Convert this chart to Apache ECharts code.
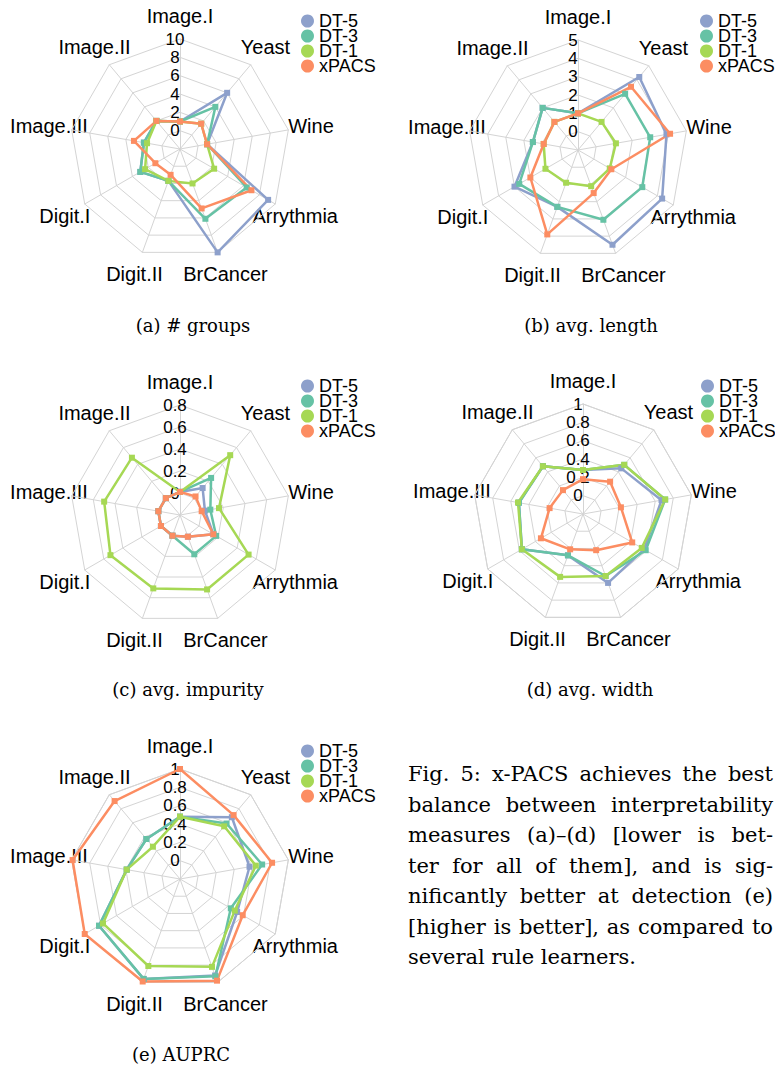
<!DOCTYPE html>
<html>
<head>
<meta charset="utf-8">
<script src="https://cdn.jsdelivr.net/npm/echarts@6/dist/echarts.min.js"></script>
<style>
  html, body { margin: 0; padding: 0; background: #fff; }
  #chart { width: 775px; height: 1074px; }
</style>
</head>
<body>
<div id="chart"></div>
<script>
// Datasets on the radar axes, listed clockwise from the top
const categories = ['Image.I', 'Yeast', 'Wine', 'Arrythmia', 'BrCancer', 'Digit.II', 'Digit.I', 'Image.III', 'Image.II'];
const seriesNames = ['DT-5', 'DT-3', 'DT-1', 'xPACS'];
const seriesColors = ['#8DA0CB', '#66C2A5', '#A6D854', '#FC8D62'];

// (a) # groups
const groupsTicks = [0, 2, 4, 6, 8, 10];
const groupsDT5   = [1, 6, 1, 9.1, 10, 1.7, 3, 2, 2];
const groupsDT3   = [1, 4, 1, 6.4, 6.1, 1.7, 3, 2, 2];
const groupsDT1   = [1, 1.6, 1, 2.3, 2, 1.7, 2.4, 1.65, 2];
const groupsXPACS = [1, 1.6, 1, 7, 4.9, 1, 1.1, 3.1, 2];

// (b) avg. length
const lengthTicks = [0, 1, 2, 3, 4, 5];
const lengthDT5   = [1, 4.2, 3.9, 4.3, 4.5, 2.3, 3.0, 1.5, 2.0];
const lengthDT3   = [1, 3.0, 3.0, 3.05, 3.05, 2.3, 2.7, 1.5, 2.0];
const lengthDT1   = [1, 1.0, 1.1, 1.0, 1.1, 0.9, 1.05, 0.9, 1.0];
const lengthXPACS = [1, 3.5, 4.1, 1.1, 1.5, 3.9, 2.0, 0.9, 1.0];

// (c) avg. impurity
const impurityTicks = [0, 0.2, 0.4, 0.6, 0.8];
const impurityDT5   = [0.01, 0.12, 0.03, 0.15, 0.01, 0, 0, 0, 0];
const impurityDT3   = [0.01, 0.24, 0.08, 0.18, 0.18, 0, 0, 0, 0];
const impurityDT1   = [0.01, 0.51, 0.16, 0.52, 0.52, 0.51, 0.53, 0.50, 0.48];
const impurityXPACS = [0.01, 0.02, 0, 0.15, 0.01, 0, 0, 0, 0];

// (d) avg. width
const widthTicks = [0, 0.2, 0.4, 0.6, 0.8, 1];
const widthDT5   = [0.28, 0.45, 0.67, 0.57, 0.60, 0.28, 0.57, 0.51, 0.48];
const widthDT3   = [0.28, 0.50, 0.71, 0.59, 0.52, 0.28, 0.57, 0.51, 0.48];
const widthDT1   = [0.28, 0.50, 0.71, 0.54, 0.52, 0.53, 0.57, 0.52, 0.48];
const widthXPACS = [0.18, 0.26, 0.22, 0.42, 0.22, 0.21, 0.33, 0.17, 0.14];

// (e) AUPRC
const auprcTicks = [0, 0.2, 0.4, 0.6, 0.8, 1];
const auprcDT5   = [0.48, 0.68, 0.57, 0.52, 0.92, 0.96, 0.82, 0.39, 0.37];
const auprcDT3   = [0.48, 0.59, 0.71, 0.44, 0.93, 0.96, 0.82, 0.39, 0.37];
const auprcDT1   = [0.48, 0.55, 0.64, 0.49, 0.82, 0.81, 0.77, 0.39, 0.26];
const auprcXPACS = [1.0, 0.71, 0.82, 0.59, 0.98, 0.99, 1.0, 0.99, 0.91];

const captionLines = [
  'Fig. 5: x-PACS achieves the best',
  'balance between interpretability',
  'measures (a)\u2013(d) [lower is bet-',
  'ter for all of them], and is sig-',
  'nificantly better at detection (e)',
  '[higher is better], as compared to',
  'several rule learners.'
];

// Panel layout
const panels = [
  { title: '(a) # groups',      ticks: groupsTicks,   values: [groupsDT5, groupsDT3, groupsDT1, groupsXPACS],
    cx: 180, cy: 149, legendLeft: 296, legendTop: 7,   capX: 193, capY: 325 },
  { title: '(b) avg. length',   ticks: lengthTicks,   values: [lengthDT5, lengthDT3, lengthDT1, lengthXPACS],
    cx: 578, cy: 150, legendLeft: 695, legendTop: 7,   capX: 591, capY: 325 },
  { title: '(c) avg. impurity', ticks: impurityTicks, values: [impurityDT5, impurityDT3, impurityDT1, impurityXPACS],
    cx: 180, cy: 515, legendLeft: 296, legendTop: 372, capX: 188, capY: 689 },
  { title: '(d) avg. width',    ticks: widthTicks,    values: [widthDT5, widthDT3, widthDT1, widthXPACS],
    cx: 583, cy: 514, legendLeft: 696, legendTop: 372, capX: 590, capY: 689 },
  { title: '(e) AUPRC',         ticks: auprcTicks,    values: [auprcDT5, auprcDT3, auprcDT1, auprcXPACS],
    cx: 180, cy: 879, legendLeft: 296, legendTop: 737, capX: 181, capY: 1054 }
];

const RADIUS = 110;
const NAME_DIST = 133;
const SANS = "'Liberation Sans', Arial, sans-serif";
const SERIF = "'DejaVu Serif', serif";
const GRID_COLOR = '#d4d4d4';

// ECharts lays indicators out counter-clockwise; list them so they read clockwise.
const order = categories.map((_, i) => (categories.length - i) % categories.length);

const radar = [], series = [], legend = [], graphic = [];

panels.forEach((p, k) => {
  const step = p.ticks[1] - p.ticks[0];
  const min = +(p.ticks[0] - step).toFixed(6);
  const max = p.ticks[p.ticks.length - 1];

  radar.push({
    center: [p.cx, p.cy],
    radius: RADIUS,
    startAngle: 90,
    shape: 'polygon',
    splitNumber: p.ticks.length,
    axisName: { show: false },
    splitArea: { show: false },
    splitLine: { lineStyle: { color: GRID_COLOR, width: 1 } },
    axisLine: { lineStyle: { color: GRID_COLOR, width: 1 } },
    axisTick: { show: false },
    axisLabel: { show: false },
    indicator: order.map((ci, j) => ({
      name: categories[ci],
      min: min,
      max: max,
      axisLabel: j === 0 ? {
        show: true,
        color: '#000',
        fontSize: 17,
        fontFamily: SANS,
        align: 'center',
        margin: 5,
        formatter: v => (v < -1e-9 ? '' : String(Math.round(v * 10) / 10))
      } : { show: false }
    }))
  });

  series.push({
    type: 'radar',
    radarIndex: k,
    symbol: 'rect',
    symbolSize: 6,
    silent: true,
    data: seriesNames.map((name, s) => ({
      name: name,
      value: order.map(ci => p.values[s][ci]),
      lineStyle: { color: seriesColors[s], width: 2.5 },
      itemStyle: { color: seriesColors[s] }
    }))
  });

  legend.push({
    orient: 'vertical',
    left: p.legendLeft,
    top: p.legendTop,
    icon: 'circle',
    itemWidth: 13,
    itemHeight: 13,
    itemGap: -3,
    selectedMode: false,
    data: seriesNames,
    textStyle: { fontSize: 18, fontFamily: SANS, color: '#000' }
  });

  // Dataset names around each radar, text centred on the spoke direction
  categories.forEach((name, i) => {
    const a = i * 2 * Math.PI / categories.length;
    graphic.push({
      type: 'text',
      x: p.cx + NAME_DIST * Math.sin(a),
      y: p.cy - NAME_DIST * Math.cos(a),
      silent: true,
      style: { text: name, fontSize: 20, fontFamily: SANS, fill: '#000', align: 'center', verticalAlign: 'middle' }
    });
  });

  // Sub-figure caption
  graphic.push({
    type: 'text',
    x: p.capX,
    y: p.capY,
    silent: true,
    style: { text: p.title, fontSize: 18, fontFamily: SERIF, fill: '#000', align: 'center', verticalAlign: 'middle' }
  });
});

// Justified figure caption on the right of (e)
const CAP_LEFT = 408, CAP_RIGHT = 773, CAP_TOP = 774, CAP_LEAD = 30.5, CAP_SIZE = 21;
const measure = document.createElement('canvas').getContext('2d');
measure.font = CAP_SIZE + 'px ' + SERIF;
captionLines.forEach((line, li) => {
  const words = line.split(' ');
  const widths = words.map(w => measure.measureText(w).width);
  const total = widths.reduce((s, w) => s + w, 0);
  const last = li === captionLines.length - 1;
  const gap = last ? measure.measureText(' ').width : (CAP_RIGHT - CAP_LEFT - total) / (words.length - 1);
  let x = CAP_LEFT;
  words.forEach((w, wi) => {
    graphic.push({
      type: 'text',
      x: x,
      y: CAP_TOP + li * CAP_LEAD,
      silent: true,
      style: { text: w, fontSize: CAP_SIZE, fontFamily: SERIF, fill: '#000', align: 'left', verticalAlign: 'middle' }
    });
    x += widths[wi] + gap;
  });
});

const chart = echarts.init(document.getElementById('chart'), null, { renderer: 'svg' });
chart.setOption({
  animation: false,
  backgroundColor: '#fff',
  radar: radar,
  legend: legend,
  series: series,
  graphic: graphic
});
</script>
</body>
</html>
